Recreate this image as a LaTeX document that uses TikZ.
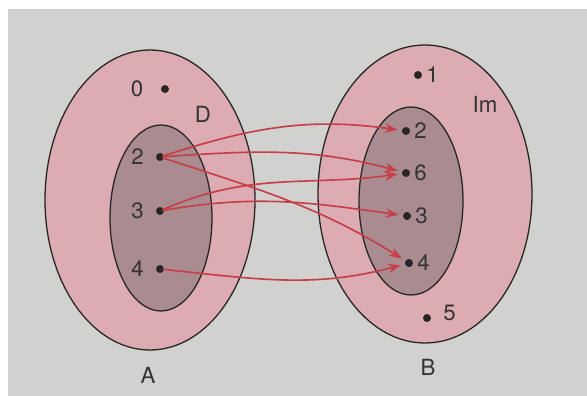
\documentclass[tikz,border=0pt]{standalone}
\usepackage{fontspec}
\setmainfont{TeX Gyre Heros}
\usetikzlibrary{arrows.meta,positioning}
\definecolor{paper}{HTML}{D1D1CF}
\definecolor{setpink}{HTML}{DCACB2}
\definecolor{subpink}{HTML}{A98B90}
\definecolor{maparrow}{HTML}{C63E48}

\begin{document}
\begin{tikzpicture}[x=0.03cm,y=-0.03cm, every node/.style={font=\fontsize{19}{22}\selectfont,text=black!80},
      setline/.style={draw=black!85,line width=1.1pt},
      dot/.style={circle,fill=black!85,inner sep=0pt,minimum size=2.4mm,label distance=1.6mm},
      arrow/.style={-{Stealth[length=3.8mm,width=2.8mm]},maparrow,line width=1.4pt,shorten >=1.3mm,shorten <=-0.5mm}]
    \useasboundingbox (0,0) rectangle (587,396);
    \fill[white] (0,0) rectangle (587,396);
    \fill[paper] (8,9) rectangle (587,396);
    % the two sets and their subsets
    \draw[setline,fill=setpink] (150,200) ellipse (105 and 150);
    \draw[setline,fill=subpink] (161,218) ellipse (51 and 93);
    \draw[setline,fill=setpink] (425,194) ellipse (107 and 149);
    \draw[setline,fill=subpink] (411,201) ellipse (52 and 94);
    % elements of A
    \node[dot,label={[label distance=4mm]left:0}] (a0) at (165,89) {};
    \node[dot,label={[label distance=2.4mm]left:2}] (a2) at (160,157) {};
    \node[dot,label={[label distance=2.4mm]left:3}] (a3) at (160,211) {};
    \node[dot,label={[label distance=2.4mm]left:4}] (a4) at (160,269) {};
    \node (setD) at (203,114) {D};
    \node (setA) at (148,375) {A};
    % elements of B
    \node[dot,label={right:1}] (b1) at (418,75) {};
    \node[dot,label={right:2}] (b2) at (406,131) {};
    \node[dot,label={right:6}] (b6) at (406,173) {};
    \node[dot,label={right:3}] (b3) at (407,216) {};
    \node[dot,label={right:4}] (b4) at (409,263) {};
    \node[dot,label={[label distance=2.4mm,yshift=1.5mm]right:5}] (b5) at (427,318) {};
    \node (setIm) at (485,104) {Im};
    \node (setB) at (428,367) {B};
    % the relation
    \draw[arrow] (a2) to[out=18,in=172] (b2);
    \draw[arrow] (a2) to[out=4,in=165] (b6);
    \draw[arrow] (a2) to[out=-18,in=148] (b4);
    \draw[arrow] (a3) to[out=24,in=188] (b6);
    \draw[arrow] (a3) to[out=10,in=172] (b3);
    \draw[arrow] (a4) to[out=-6,in=195] (b4);
  \end{tikzpicture}
\end{document}
